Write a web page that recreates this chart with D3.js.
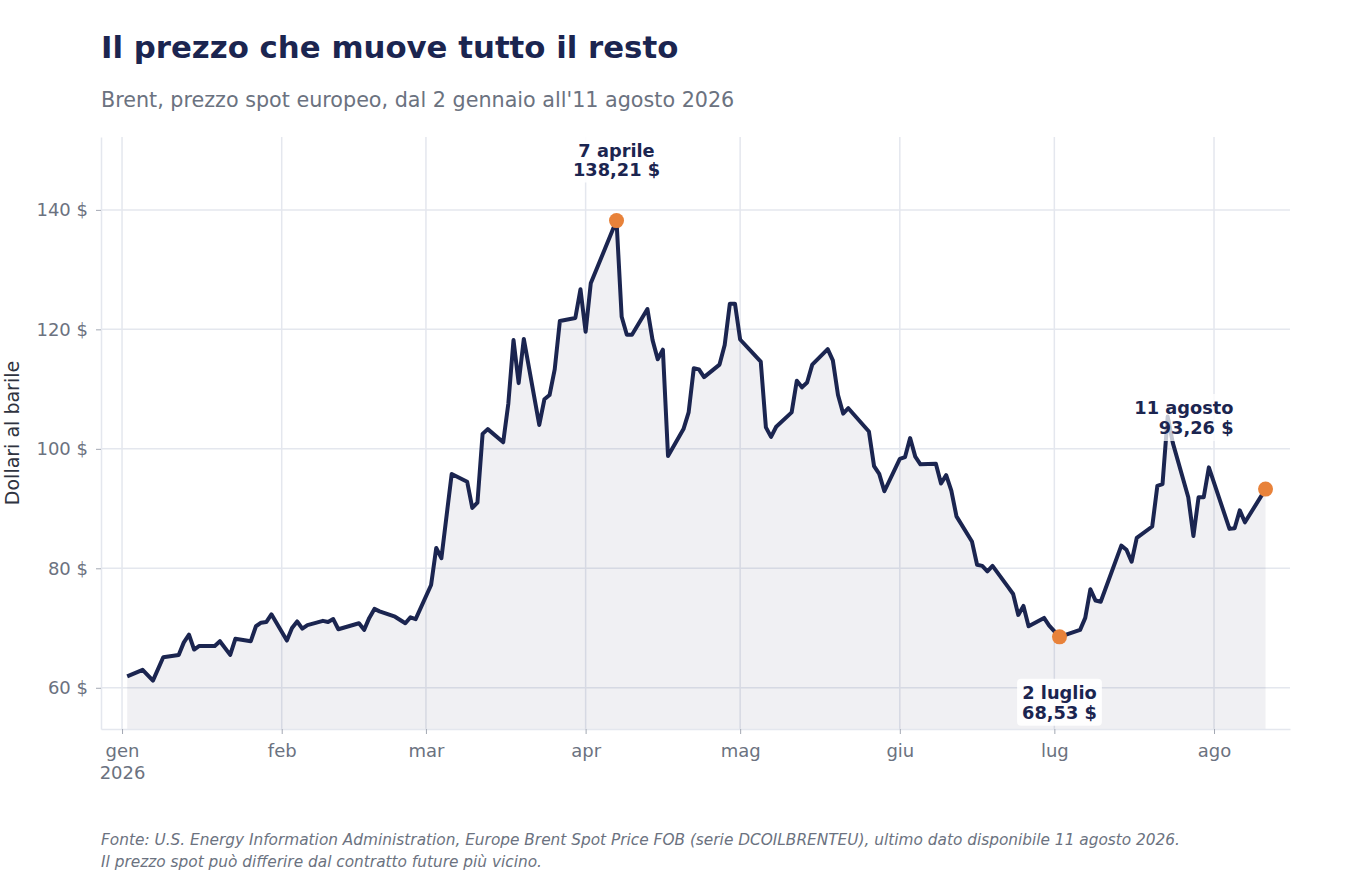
<!DOCTYPE html>
<html>
<head>
<meta charset="utf-8">
<script src="https://cdn.jsdelivr.net/npm/d3@7"></script>
<style>
  body { margin: 0; background: #fff; }
  svg { font-family: "DejaVu Sans", sans-serif; }
</style>
</head>
<body>
<script>
// data
var dates = [
  '2026-01-02','2026-01-05','2026-01-07','2026-01-09','2026-01-12','2026-01-13','2026-01-14','2026-01-15','2026-01-16',
  '2026-01-19','2026-01-20','2026-01-22','2026-01-23','2026-01-26','2026-01-27','2026-01-28','2026-01-29','2026-01-30',
  '2026-02-02','2026-02-03','2026-02-04','2026-02-05','2026-02-06','2026-02-09','2026-02-10','2026-02-11','2026-02-12',
  '2026-02-16','2026-02-17','2026-02-18','2026-02-19','2026-02-20','2026-02-23','2026-02-25','2026-02-26','2026-02-27',
  '2026-03-02','2026-03-03','2026-03-04','2026-03-06','2026-03-09','2026-03-10','2026-03-11','2026-03-12','2026-03-13',
  '2026-03-16','2026-03-17','2026-03-18','2026-03-19','2026-03-20','2026-03-23','2026-03-24','2026-03-25','2026-03-26',
  '2026-03-27','2026-03-30','2026-03-31','2026-04-01','2026-04-02','2026-04-07','2026-04-08','2026-04-09','2026-04-10',
  '2026-04-13','2026-04-14','2026-04-15','2026-04-16','2026-04-17','2026-04-20','2026-04-21','2026-04-22','2026-04-23',
  '2026-04-24','2026-04-27','2026-04-28','2026-04-29','2026-04-30','2026-05-01','2026-05-05','2026-05-06','2026-05-07',
  '2026-05-08','2026-05-11','2026-05-12','2026-05-13','2026-05-14','2026-05-15','2026-05-18','2026-05-19','2026-05-20',
  '2026-05-21','2026-05-22','2026-05-26','2026-05-27','2026-05-28','2026-05-29','2026-06-01','2026-06-02','2026-06-03',
  '2026-06-04','2026-06-05','2026-06-08','2026-06-09','2026-06-10','2026-06-11','2026-06-12','2026-06-15','2026-06-16',
  '2026-06-17','2026-06-18','2026-06-19','2026-06-22','2026-06-23','2026-06-24','2026-06-25','2026-06-26','2026-06-29',
  '2026-06-30','2026-07-02','2026-07-06','2026-07-07','2026-07-08','2026-07-09','2026-07-10','2026-07-14','2026-07-15',
  '2026-07-16','2026-07-17','2026-07-20','2026-07-21','2026-07-22','2026-07-23','2026-07-24','2026-07-27','2026-07-28',
  '2026-07-29','2026-07-30','2026-07-31','2026-08-04','2026-08-05','2026-08-06','2026-08-07','2026-08-11'
];
var prices = [
  61.9, 63.0, 61.2, 65.1, 65.5, 67.6, 68.9, 66.4, 67.0,
  67.0, 67.8, 65.5, 68.2, 67.8, 70.3, 70.9, 71.0, 72.3,
  67.9, 70.0, 71.1, 69.9, 70.5, 71.2, 71.0, 71.5, 69.8,
  70.8, 69.7, 71.7, 73.2, 72.8, 71.9, 70.8, 71.8, 71.5,
  77.2, 83.4, 81.7, 95.8, 94.5, 90.1, 91.0, 102.5, 103.3,
  101.1, 107.6, 118.2, 111.0, 118.4, 104.0, 108.3, 109.0, 113.3,
  121.4, 121.9, 126.7, 119.6, 127.7, 138.21, 122.1, 119.1, 119.1,
  123.4, 118.2, 115.0, 116.6, 98.8, 103.3, 106.1, 113.5, 113.3,
  112.0, 114.1, 117.4, 124.3, 124.3, 118.3, 114.6, 103.6, 102.0,
  103.7, 106.1, 111.4, 110.3, 111.1, 114.1, 116.7, 114.8, 109.0,
  105.9, 106.8, 102.9, 97.1, 95.8, 92.9, 98.3, 98.6, 101.8,
  98.7, 97.4, 97.5, 94.2, 95.6, 93.0, 88.7, 84.5, 80.6,
  80.4, 79.5, 80.4, 76.9, 75.7, 72.2, 73.7, 70.3, 71.7,
  70.4, 68.53, 69.7, 71.7, 76.5, 74.6, 74.4, 83.8, 83.1,
  81.1, 85.1, 87.0, 93.8, 94.1, 105.4, 101.0, 91.9, 85.4,
  91.9, 91.9, 96.9, 86.6, 86.7, 89.7, 87.7, 93.26
];
var monthLabels = ['gen', 'feb', 'mar', 'apr', 'mag', 'giu', 'lug', 'ago'];
var yearLabel = '2026';
var yTicks = [60, 80, 100, 120, 140];
var noteDates = ['2026-04-07', '2026-07-02', '2026-08-11'];
var noteTexts = [['7 aprile', '138,21 $'], ['2 luglio', '68,53 $'], ['11 agosto', '93,26 $']];

// layout
var width  = 1352,
    height = 884,
    plot   = { left: 101, right: 1290, top: 137, bottom: 729 },
    navy   = '#1b2550',
    orange = '#e8823a',
    grey   = '#6b7280',
    grid   = '#e4e7ee';

// annotation placement relative to its point
var noteLayout = [
  { dx: 0,   dy1: -64, dy2: -45, anchor: 'middle', boxOpacity: 0.9 },
  { dx: 0,   dy1: 62,  dy2: 82,  anchor: 'middle', boxOpacity: 0.9 },
  { dx: -32, dy1: -75, dy2: -55, anchor: 'end',    boxOpacity: 0.75 }
];

var parse = d3.utcParse('%Y-%m-%d');
var data = dates.map(function(d, i) {
  return { date: parse(d), price: prices[i] };
});

var xScale = d3.scaleUtc()
  .domain([new Date(Date.UTC(2025, 11, 27, 22)), new Date(Date.UTC(2026, 7, 15, 18))])
  .range([plot.left, plot.right]);

var yScale = d3.scaleLinear()
  .domain([53.1, 152.2])
  .range([plot.bottom, plot.top]);

var monthTicks = monthLabels.map(function(m, i) { return new Date(Date.UTC(2026, i, 1)); });

var svg = d3.select('body').append('svg')
  .attr('width', width)
  .attr('height', height);

// titles
svg.append('text')
  .attr('x', 101).attr('y', 58)
  .attr('font-size', 30.8).attr('font-weight', 'bold').attr('fill', navy)
  .text('Il prezzo che muove tutto il resto');

svg.append('text')
  .attr('x', 101).attr('y', 107)
  .attr('font-size', 20.7).attr('fill', grey)
  .text("Brent, prezzo spot europeo, dal 2 gennaio all'11 agosto 2026");

// grid
svg.append('g').selectAll('line').data(yTicks).enter().append('line')
  .attr('x1', plot.left).attr('x2', plot.right)
  .attr('y1', function(d) { return yScale(d); })
  .attr('y2', function(d) { return yScale(d); })
  .attr('stroke', grid).attr('stroke-width', 1.5);

svg.append('g').selectAll('line').data(monthTicks).enter().append('line')
  .attr('y1', plot.top).attr('y2', plot.bottom)
  .attr('x1', function(d) { return xScale(d); })
  .attr('x2', function(d) { return xScale(d); })
  .attr('stroke', grid).attr('stroke-width', 1.5);

// area + line
var area = d3.area()
  .x(function(d) { return xScale(d.date); })
  .y0(plot.bottom)
  .y1(function(d) { return yScale(d.price); });

var line = d3.line()
  .x(function(d) { return xScale(d.date); })
  .y(function(d) { return yScale(d.price); });

svg.append('path').datum(data)
  .attr('d', area)
  .attr('fill', 'rgba(27,37,80,0.065)');

// axes
var xAxis = svg.append('g')
  .attr('transform', 'translate(0,' + plot.bottom + ')')
  .call(d3.axisBottom(xScale)
    .tickValues(monthTicks)
    .tickSize(5).tickSizeOuter(0).tickPadding(10)
    .tickFormat(function(d, i) { return monthLabels[i]; }));

var yAxis = svg.append('g')
  .attr('transform', 'translate(' + plot.left + ',0)')
  .call(d3.axisLeft(yScale)
    .tickValues(yTicks)
    .tickSize(5).tickSizeOuter(0).tickPadding(8)
    .tickFormat(function(d) { return d + ' $'; }));

[xAxis, yAxis].forEach(function(a) {
  a.select('.domain').attr('stroke', grid).attr('stroke-width', 1.5);
  a.selectAll('.tick line').attr('stroke', '#a3a8b3');
  a.selectAll('.tick text')
    .attr('font-size', 18).attr('fill', grey)
    .attr('font-family', '"DejaVu Sans", sans-serif');
});

// year under first month
xAxis.select('.tick text').append('tspan')
  .attr('x', 0).attr('dy', '1.25em')
  .text(yearLabel);

// y axis title
svg.append('text')
  .attr('transform', 'translate(19,' + ((plot.top + plot.bottom) / 2) + ') rotate(-90)')
  .attr('text-anchor', 'middle')
  .attr('font-size', 19).attr('fill', '#2f3340')
  .text('Dollari al barile');

svg.append('path').datum(data)
  .attr('d', line)
  .attr('fill', 'none')
  .attr('stroke', navy)
  .attr('stroke-width', 4)
  .attr('stroke-linejoin', 'round');

// annotations
var notes = noteDates.map(function(d, i) {
  var p = data.find(function(o) { return o.date.getTime() === parse(d).getTime(); });
  return { point: p, lines: noteTexts[i], layout: noteLayout[i] };
});

notes.forEach(function(n) {
  var px = xScale(n.point.date),
      py = yScale(n.point.price),
      g  = svg.append('g');
  var box = g.append('rect');
  var t = g.append('g')
    .attr('font-size', 17.8).attr('font-weight', 'bold').attr('fill', navy)
    .attr('text-anchor', n.layout.anchor);
  t.append('text').attr('x', px + n.layout.dx).attr('y', py + n.layout.dy1).text(n.lines[0]);
  t.append('text').attr('x', px + n.layout.dx).attr('y', py + n.layout.dy2).text(n.lines[1]);
  var bb = t.node().getBBox();
  box.attr('x', bb.x - 5).attr('y', bb.y - 3)
    .attr('width', bb.width + 10).attr('height', bb.height + 6)
    .attr('rx', 4)
    .attr('fill', '#fff').attr('fill-opacity', n.layout.boxOpacity);
});

// markers
svg.append('g').selectAll('circle').data(notes).enter().append('circle')
  .attr('cx', function(d) { return xScale(d.point.date); })
  .attr('cy', function(d) { return yScale(d.point.price); })
  .attr('r', 7.5)
  .attr('fill', orange);

// source note
var foot = svg.append('text')
  .attr('x', 101).attr('y', 845)
  .attr('font-size', 15.35).attr('font-style', 'italic').attr('fill', grey);
foot.append('tspan').attr('x', 101)
  .text('Fonte: U.S. Energy Information Administration, Europe Brent Spot Price FOB (serie DCOILBRENTEU), ultimo dato disponibile 11 agosto 2026.');
foot.append('tspan').attr('x', 101).attr('dy', 22)
  .text('Il prezzo spot può differire dal contratto future più vicino.');
</script>
</body>
</html>
